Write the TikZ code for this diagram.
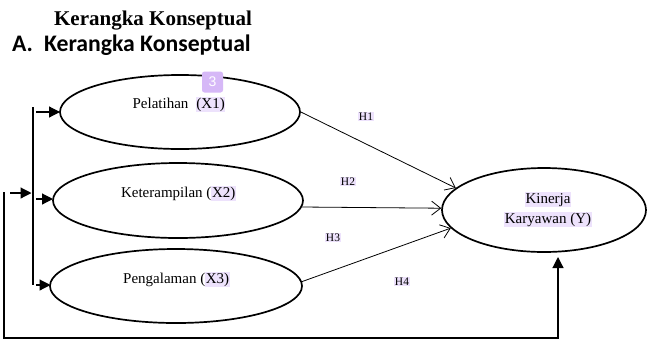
\documentclass[tikz,border=0pt]{standalone}
\usepackage{fontspec}
\setmainfont{Liberation Serif}
\newfontfamily\calfont{Carlito}
\newfontfamily\badgefont{Liberation Sans}
\usetikzlibrary{arrows.meta,shapes.geometric}
\definecolor{hlc}{RGB}{237,226,252}
\definecolor{badgec}{RGB}{214,184,247}
\newcommand\hlbox[1]{{\setlength{\fboxsep}{0.6pt}\colorbox{hlc}{#1}}}
\begin{document}
\begin{tikzpicture}[x=1pt,y=-1pt,
 oval/.style={ellipse,draw=black,line width=1.7pt,inner sep=0pt},
 txt/.style={inner sep=0pt,anchor=base,font=\fontsize{15}{17}\selectfont},
 hlab/.style={inner sep=0pt,anchor=base,font=\fontsize{11.5}{13}\selectfont},
 bus/.style={line width=1.2pt},
 fat/.style={line width=1.2pt,-{Triangle[length=11pt,width=11pt]}},
 harrow/.style={line width=0.8pt,-{Straight Barb[length=9pt,width=14pt]}}]
\fill[white] (0,0) rectangle (647,341);
\useasboundingbox (0,0) rectangle (647,341);

\node[anchor=base,inner sep=0pt,font=\fontsize{21}{24}\selectfont\bfseries] (title) at (153,25) {Kerangka Konseptual};
\node[anchor=base west,inner sep=0pt,font=\calfont\fontsize{23.7}{26}\selectfont\bfseries] (sub) at (12,51) {A.\hspace{11pt}Kerangka Konseptual};

\node[oval,minimum width=240pt,minimum height=74pt] (x1) at (180,112) {};
\node[oval,minimum width=250pt,minimum height=75pt] (x2) at (178,200.5) {};
\node[oval,minimum width=252pt,minimum height=74pt] (x3) at (176,286) {};
\node[oval,minimum width=204pt,minimum height=84pt] (y) at (544,210) {};

\node[txt] (t1) at (179,108) {Pelatihan\ \ \hlbox{(X1)}};
\node[txt] (t2) at (178.5,197) {Keterampilan (\hlbox{X2)}};
\node[txt] (t3) at (176.5,283) {Pengalaman (\hlbox{X3)}};
\node[txt] (ty1) at (548,203) {\hlbox{Kinerja}};
\node[txt] (ty2) at (548,223) {\hlbox{Karyawan (Y)}};

\node[fill=badgec,rounded corners=2.5pt,minimum width=21pt,minimum height=21pt,inner sep=0pt,text=white,font=\badgefont\fontsize{14}{15}\selectfont] (badge) at (212.5,82) {3};

\coordinate (bt) at (33,107);
\coordinate (bb) at (33,285);
\draw[bus] (bt) -- (bb);
\coordinate (a1) at (36,112);
\coordinate (a2) at (36,199);
\coordinate (a3) at (36,285);
\coordinate (e1) at (60,112);
\coordinate (e2) at (53,199);
\coordinate (e3) at (50.5,285);
\draw[fat] (a1) -- (e1);
\draw[fat] (a2) -- (e2);
\draw[fat] (a3) -- (e3);

\coordinate (s0) at (10,193);
\coordinate (s1) at (31.5,193);
\draw[fat] (s0) -- (s1);

\coordinate (f0) at (4,192);
\coordinate (fc) at (4,338);
\coordinate (fd) at (558,338);
\coordinate (f1) at (558,257);
\draw[fat] (f0) -- (fc) -- (fd) -- (f1);

\draw[harrow] (x1.east) -- (y.166);
\draw[harrow] (x2.-3) -- (y.179);
\draw[harrow] (x3.2) -- (y.191);

\node[hlab] (h1) at (366,120.5) {\hlbox{H1}};
\node[hlab] (h2) at (348,185) {\hlbox{H2}};
\node[hlab] (h3) at (333,241.5) {\hlbox{H3}};
\node[hlab] (h4) at (402,285) {\hlbox{H4}};
\end{tikzpicture}
\end{document}
